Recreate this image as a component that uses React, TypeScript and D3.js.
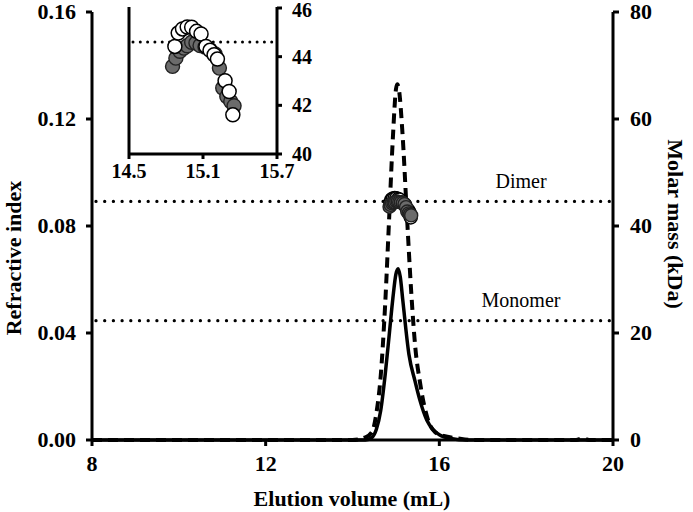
import React from 'react';
import { scaleLinear, line, curveMonotoneX } from 'd3';

// chromatogram traces (elution volume in mL, refractive index)
const dashedVol = [8, 14.0, 14.3, 14.45, 14.55, 14.65, 14.75, 14.85, 14.93, 15.0, 15.03, 15.07, 15.15, 15.25, 15.35, 15.45, 15.55, 15.65, 15.75, 15.9, 16.1, 16.4, 16.8, 19.15, 19.3, 19.45, 20];
const dashedRI = [0, 0, 0.001, 0.003, 0.01, 0.024, 0.05, 0.085, 0.113, 0.131, 0.133, 0.131, 0.115, 0.085, 0.056, 0.034, 0.022, 0.013, 0.007, 0.003, 0.0015, 0.0007, 0, 0, 0.0007, 0, 0];

const solidVol = [8, 14.3, 14.45, 14.55, 14.65, 14.75, 14.85, 14.93, 15.0, 15.05, 15.1, 15.16, 15.3, 15.44, 15.55, 15.71, 15.85, 16.0, 16.3, 16.6, 20];
const solidRI = [0, 0, 0.001, 0.004, 0.011, 0.024, 0.04, 0.053, 0.062, 0.064, 0.061, 0.052, 0.032, 0.022, 0.015, 0.0075, 0.004, 0.002, 0.0005, 0, 0];

// molar mass points (open and grey)
const openVol = [14.872, 14.899, 14.934, 14.972, 15.008, 15.048, 15.084, 15.124, 15.157, 15.19, 15.217, 15.279, 15.312, 15.342];
const openMass = [44.42, 44.97, 45.14, 45.22, 45.21, 45.04, 44.93, 44.42, 44.26, 44.08, 43.9, 43.01, 42.57, 41.61];
const greyVol = [14.853, 14.88, 14.913, 14.945, 14.972, 15.008, 15.043, 15.076, 15.116, 15.157, 15.198, 15.233, 15.26, 15.293, 15.325, 15.352];
const greyMass = [43.6, 43.94, 44.22, 44.35, 44.45, 44.59, 44.56, 44.46, 44.4, 44.29, 44.11, 43.53, 42.71, 42.36, 42.16, 41.98];

const dimerMass = 44.6;
const monomerMass = 22.3;

const xTicks = [8, 12, 16, 20];
const riTicks = [0, 0.04, 0.08, 0.12, 0.16];
const massTicks = [0, 20, 40, 60, 80];
const insetXTicks = [14.5, 15.1, 15.7];
const insetYTicks = [40, 42, 44, 46];

const font = '"Liberation Serif", "Times New Roman", serif';

export default function App() {
  const x = scaleLinear().domain([8, 20]).range([92, 613]);
  const yRI = scaleLinear().domain([0, 0.16]).range([440, 12]);
  const yMass = scaleLinear().domain([0, 80]).range([440, 12]);

  const ix = scaleLinear().domain([14.5, 15.7]).range([129, 277]);
  const iy = scaleLinear().domain([40, 46]).range([154, 8]);

  const trace = line<number>()
    .x((d) => x(d[0]))
    .y((d) => yRI(d[1]))
    .curve(curveMonotoneX);

  const dashedPath = trace(dashedVol.map((v, i) => [v, dashedRI[i]]) as any);
  const solidPath = trace(solidVol.map((v, i) => [v, solidRI[i]]) as any);

  const grey = (sx: any, sy: any, r: number) =>
    greyVol.map((v, i) => (
      <circle key={'g' + i} cx={sx(v)} cy={sy(greyMass[i])} r={r} fill="#6b6b6b" stroke="#222" strokeWidth={1.4} />
    ));
  const open = (sx: any, sy: any, r: number) =>
    openVol.map((v, i) => (
      <circle key={'o' + i} cx={sx(v)} cy={sy(openMass[i])} r={r} fill="white" stroke="black" strokeWidth={1.5} />
    ));

  return (
    <svg width={693} height={512} style={{ position: 'absolute', left: 0, top: 0, background: 'white' }} fontFamily={font}>
      {/* reference lines */}
      {[dimerMass, monomerMass].map((m) => (
        <line key={m} x1={x(8) + 4} x2={x(20) - 3} y1={yMass(m)} y2={yMass(m)} stroke="black" strokeWidth={3.3} strokeDasharray="0 8.7" strokeLinecap="round" />
      ))}
      <text x={521} y={188} fontSize={20} textAnchor="middle">Dimer</text>
      <text x={521} y={307} fontSize={20} textAnchor="middle">Monomer</text>

      {/* traces */}
      <path d={dashedPath || ''} fill="none" stroke="black" strokeWidth={4} strokeDasharray="10 6" />
      <path d={solidPath || ''} fill="none" stroke="black" strokeWidth={3.5} />

      {open(x, yMass, 6.5)}
      {grey(x, yMass, 6.5)}

      {/* axes */}
      <g stroke="black" strokeWidth={3}>
        <line x1={x(8)} x2={x(20)} y1={440} y2={440} />
        <line x1={x(8)} x2={x(8)} y1={yRI(0.16)} y2={440} />
        <line x1={x(20)} x2={x(20)} y1={yMass(80)} y2={440} />
        {xTicks.map((t) => <line key={t} x1={x(t)} x2={x(t)} y1={440} y2={446} />)}
        {riTicks.map((t) => <line key={t} x1={x(8) - 6} x2={x(8)} y1={yRI(t)} y2={yRI(t)} />)}
        {massTicks.map((t) => <line key={t} x1={x(20)} x2={x(20) + 6} y1={yMass(t)} y2={yMass(t)} />)}
      </g>
      <g fontSize={22} fontWeight="bold">
        {xTicks.map((t) => <text key={t} x={x(t)} y={471} textAnchor="middle">{t}</text>)}
        {riTicks.map((t) => <text key={t} x={76} y={Math.max(yRI(t) + 7, 19)} textAnchor="end">{t.toFixed(2)}</text>)}
        {massTicks.map((t) => <text key={t} x={630} y={Math.max(yMass(t) + 7, 19)}>{t}</text>)}
        <text x={352} y={506} textAnchor="middle">Elution volume (mL)</text>
        <text transform="translate(21,258) rotate(-90)" textAnchor="middle">Refractive index</text>
        <text transform="translate(668,224) rotate(90)" textAnchor="middle">Molar mass (kDa)</text>
      </g>

      {/* inset */}
      <line x1={ix(14.5) + 4} x2={ix(15.7)} y1={iy(dimerMass)} y2={iy(dimerMass)} stroke="black" strokeWidth={3} strokeDasharray="0 7.3" strokeLinecap="round" />
      {grey(ix, iy, 7)}
      {open(ix, iy, 7)}
      <g stroke="black" strokeWidth={3}>
        <line x1={ix(14.5)} x2={ix(15.7)} y1={154} y2={154} />
        <line x1={ix(14.5)} x2={ix(14.5)} y1={7} y2={154} />
        <line x1={ix(15.7)} x2={ix(15.7)} y1={7} y2={154} />
        {insetXTicks.map((t) => <line key={t} x1={ix(t)} x2={ix(t)} y1={154} y2={159} />)}
        {insetYTicks.map((t) => <line key={t} x1={ix(15.7)} x2={ix(15.7) + 5} y1={iy(t)} y2={iy(t)} />)}
      </g>
      <g fontSize={20} fontWeight="bold">
        {insetXTicks.map((t) => <text key={t} x={ix(t)} y={178} textAnchor="middle">{t.toFixed(1)}</text>)}
        {insetYTicks.map((t) => <text key={t} x={292} y={Math.max(iy(t) + 7, 17)}>{t}</text>)}
      </g>
    </svg>
  );
}
